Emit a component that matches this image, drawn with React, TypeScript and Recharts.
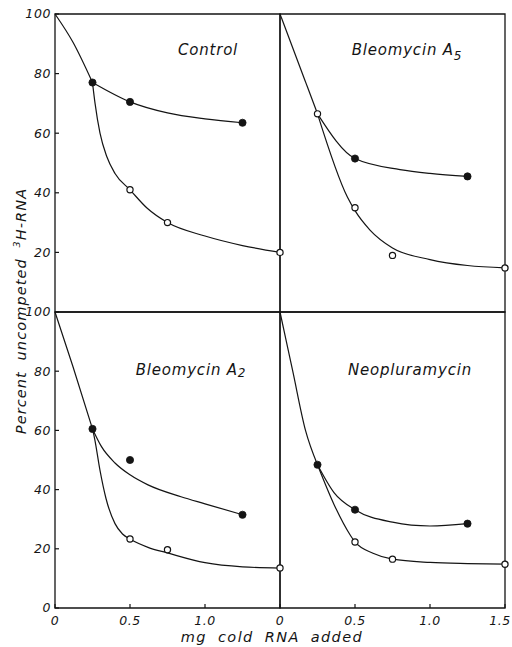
import React from 'react';
import { ComposedChart, Line, Scatter, XAxis, YAxis, ReferenceArea } from 'recharts';

type Pt = { x: number; y: number };

// Tick values
const X_TICKS_LEFT = [0, 0.5, 1.0];
const X_TICKS_RIGHT = [0, 0.5, 1.0, 1.5];
const X_INNER_TICKS = [0.5, 1.0];
const Y_TICKS_TOP = [20, 40, 60, 80, 100];
const Y_TICKS_BOTTOM = [0, 20, 40, 60, 80, 100];

// Control
const controlFilled: Pt[] = [{ x: 0.25, y: 77 }, { x: 0.5, y: 70.5 }, { x: 1.25, y: 63.5 }];
const controlOpen: Pt[] = [{ x: 0.5, y: 41 }, { x: 0.75, y: 30 }, { x: 1.5, y: 20 }];
const controlLead: Pt[] = [{ x: 0, y: 100 }, { x: 0.12, y: 90.5 }, { x: 0.25, y: 77 }];
const controlFilledCurve: Pt[] = [
  { x: 0.25, y: 77 }, { x: 0.5, y: 70.5 }, { x: 0.75, y: 66.8 }, { x: 1.0, y: 64.8 }, { x: 1.25, y: 63.5 },
];
const controlOpenCurve: Pt[] = [
  { x: 0.25, y: 77 }, { x: 0.267, y: 70 }, { x: 0.3, y: 60 }, { x: 0.345, y: 52.2 }, { x: 0.4, y: 46.5 },
  { x: 0.5, y: 41 }, { x: 0.615, y: 34.8 }, { x: 0.75, y: 30 }, { x: 1.0, y: 25.5 }, { x: 1.25, y: 22.3 },
  { x: 1.5, y: 20 },
];

// Bleomycin A5
const a5Filled: Pt[] = [{ x: 0.5, y: 51.5 }, { x: 1.25, y: 45.5 }];
const a5Open: Pt[] = [{ x: 0.25, y: 66.5 }, { x: 0.5, y: 35 }, { x: 0.75, y: 19 }, { x: 1.5, y: 14.8 }];
const a5Lead: Pt[] = [{ x: 0, y: 100 }, { x: 0.25, y: 66.5 }];
const a5FilledCurve: Pt[] = [
  { x: 0.25, y: 66.5 }, { x: 0.5, y: 51.5 }, { x: 0.8, y: 47.8 }, { x: 1.0, y: 46.5 }, { x: 1.25, y: 45.5 },
];
const a5OpenCurve: Pt[] = [
  { x: 0.25, y: 66.5 }, { x: 0.45, y: 38.5 }, { x: 0.5, y: 34 }, { x: 0.6, y: 27.5 }, { x: 0.75, y: 21.5 },
  { x: 1.0, y: 17.6 }, { x: 1.25, y: 15.6 }, { x: 1.5, y: 14.8 },
];

// Bleomycin A2
const a2Filled: Pt[] = [{ x: 0.25, y: 60.5 }, { x: 0.5, y: 50 }, { x: 1.25, y: 31.5 }];
const a2Open: Pt[] = [{ x: 0.5, y: 23.3 }, { x: 0.75, y: 19.7 }, { x: 1.5, y: 13.5 }];
const a2Lead: Pt[] = [{ x: 0, y: 100 }, { x: 0.12, y: 81.5 }, { x: 0.25, y: 60.5 }];
const a2FilledCurve: Pt[] = [
  { x: 0.25, y: 60.5 }, { x: 0.31, y: 54.5 }, { x: 0.4, y: 49 }, { x: 0.5, y: 45 }, { x: 0.62, y: 41.6 },
  { x: 0.84, y: 37.6 }, { x: 1.0, y: 35.2 }, { x: 1.25, y: 31.5 },
];
const a2OpenCurve: Pt[] = [
  { x: 0.25, y: 60.5 }, { x: 0.265, y: 57 }, { x: 0.3, y: 46.5 }, { x: 0.34, y: 37 }, { x: 0.4, y: 28.5 },
  { x: 0.45, y: 25 }, { x: 0.5, y: 23.3 }, { x: 0.62, y: 20.5 }, { x: 0.75, y: 18.6 }, { x: 1.0, y: 15.3 },
  { x: 1.25, y: 13.9 }, { x: 1.5, y: 13.5 },
];

// Neopluramycin
const neoFilled: Pt[] = [{ x: 0.25, y: 48.4 }, { x: 0.5, y: 33.2 }, { x: 1.25, y: 28.5 }];
const neoOpen: Pt[] = [{ x: 0.5, y: 22.3 }, { x: 0.75, y: 16.5 }, { x: 1.5, y: 14.8 }];
const neoLead: Pt[] = [{ x: 0, y: 100 }, { x: 0.085, y: 80 }, { x: 0.17, y: 60 }, { x: 0.25, y: 48.4 }];
const neoFilledCurve: Pt[] = [
  { x: 0.25, y: 48.4 }, { x: 0.36, y: 39 }, { x: 0.5, y: 33.2 }, { x: 0.75, y: 29 }, { x: 1.0, y: 27.7 },
  { x: 1.25, y: 28.5 },
];
const neoOpenCurve: Pt[] = [
  { x: 0.25, y: 48.4 }, { x: 0.36, y: 35 }, { x: 0.47, y: 24.5 }, { x: 0.5, y: 22.3 }, { x: 0.62, y: 18.5 },
  { x: 0.75, y: 16.5 }, { x: 1.0, y: 15.4 }, { x: 1.25, y: 15 }, { x: 1.5, y: 14.8 },
];

const INK = '#141414';
const FONT = '"DejaVu Sans", sans-serif';
const tickStyle = { fontFamily: FONT, fontStyle: 'italic', fontSize: 12.5, fill: INK, letterSpacing: 0.6 };
const fmtX = (v: number) => (v === 0 ? '0' : v.toFixed(1));

const FilledDot = (p: any) => <circle cx={p.cx} cy={p.cy} r={3.6} fill={INK} stroke={INK} strokeWidth={0.8} />;
const OpenDot = (p: any) => <circle cx={p.cx} cy={p.cy} r={3.1} fill="#fff" stroke={INK} strokeWidth={1.2} />;

// x tick label; the last label at the far right is nudged inward so it stays on the page
const XTick = (p: any) => {
  const v = p.payload.value as number;
  const dx = v === 1.5 ? -5 : 0;
  return (
    <text x={p.x + dx} y={p.y} dy="0.71em" textAnchor="middle" {...tickStyle}>
      {fmtX(v)}
    </text>
  );
};

interface PanelProps {
  left: number;
  top: number;
  width: number;
  height: number;
  margin: { top: number; right: number; bottom: number; left: number };
  yAxisWidth: number;
  yTicks: number[];
  yLabels: boolean;
  xTicks: number[] | null;
  topTicks: boolean;
  lead: Pt[];
  filledCurve: Pt[];
  openCurve: Pt[];
  filled: Pt[];
  open: Pt[];
  z: number;
}

function Panel(props: PanelProps) {
  const { left, top, width, height, margin, yAxisWidth, yTicks, yLabels, xTicks, topTicks } = props;
  return (
    <div style={{ position: 'absolute', left, top, width, height, zIndex: props.z }}>
      <ComposedChart width={width} height={height} margin={margin}>
        {xTicks ? (
          <XAxis
            dataKey="x"
            type="number"
            domain={[0, 1.5]}
            ticks={xTicks}
            interval={0}
            height={30}
            axisLine={false}
            tickSize={-4}
            tickMargin={12}
            tickLine={{ stroke: INK, strokeWidth: 1.2 }}
            tick={<XTick />}
          />
        ) : (
          <XAxis dataKey="x" type="number" domain={[0, 1.5]} hide />
        )}
        {topTicks && (
          <XAxis
            xAxisId="top"
            orientation="top"
            dataKey="x"
            type="number"
            domain={[0, 1.5]}
            ticks={X_INNER_TICKS}
            interval={0}
            height={0}
            axisLine={false}
            tickSize={4}
            tickLine={{ stroke: INK, strokeWidth: 1.2 }}
            tick={false}
          />
        )}
        <YAxis
          dataKey="y"
          type="number"
          domain={[0, 100]}
          ticks={yTicks}
          interval={0}
          width={yAxisWidth}
          axisLine={false}
          tickSize={-4}
          tickMargin={8}
          tickLine={{ stroke: INK, strokeWidth: 1.2 }}
          tick={yLabels ? tickStyle : false}
        />
        <ReferenceArea x1={0} x2={1.5} y1={0} y2={100} fill="none" stroke={INK} strokeWidth={1.3} ifOverflow="visible" />
        <Line data={props.lead} dataKey="y" type="monotone" stroke={INK} strokeWidth={1.2} dot={false} activeDot={false} isAnimationActive={false} />
        <Line data={props.filledCurve} dataKey="y" type="monotone" stroke={INK} strokeWidth={1.2} dot={false} activeDot={false} isAnimationActive={false} />
        <Line data={props.openCurve} dataKey="y" type="monotone" stroke={INK} strokeWidth={1.2} dot={false} activeDot={false} isAnimationActive={false} />
        <Scatter data={props.filled} dataKey="y" shape={FilledDot} isAnimationActive={false} />
        <Scatter data={props.open} dataKey="y" shape={OpenDot} isAnimationActive={false} />
      </ComposedChart>
    </div>
  );
}

const titleStyle: React.CSSProperties = { fontFamily: FONT, fontStyle: 'italic', fontSize: 15, fill: INK };

export default function App() {
  return (
    <div style={{ position: 'absolute', left: 0, top: 0, width: 512, height: 647, background: '#fff', overflow: 'hidden' }}>
      <Panel
        left={0} top={0} width={292} height={322}
        margin={{ top: 14, right: 12, bottom: 10, left: 0 }}
        yAxisWidth={55} yTicks={Y_TICKS_TOP} yLabels xTicks={null} topTicks={false}
        lead={controlLead} filledCurve={controlFilledCurve} openCurve={controlOpenCurve}
        filled={controlFilled} open={controlOpen} z={2}
      />
      <Panel
        left={270} top={0} width={242} height={322}
        margin={{ top: 14, right: 7, bottom: 10, left: 10 }}
        yAxisWidth={0} yTicks={Y_TICKS_TOP} yLabels={false} xTicks={null} topTicks={false}
        lead={a5Lead} filledCurve={a5FilledCurve} openCurve={a5OpenCurve}
        filled={a5Filled} open={a5Open} z={1}
      />
      <Panel
        left={0} top={300} width={292} height={347}
        margin={{ top: 12, right: 12, bottom: 9, left: 0 }}
        yAxisWidth={55} yTicks={Y_TICKS_BOTTOM} yLabels xTicks={X_TICKS_LEFT} topTicks
        lead={a2Lead} filledCurve={a2FilledCurve} openCurve={a2OpenCurve}
        filled={a2Filled} open={a2Open} z={2}
      />
      <Panel
        left={270} top={300} width={242} height={347}
        margin={{ top: 12, right: 7, bottom: 9, left: 10 }}
        yAxisWidth={0} yTicks={Y_TICKS_BOTTOM} yLabels={false} xTicks={X_TICKS_RIGHT} topTicks
        lead={neoLead} filledCurve={neoFilledCurve} openCurve={neoOpenCurve}
        filled={neoFilled} open={neoOpen} z={1}
      />
      <svg width={512} height={647} style={{ position: 'absolute', left: 0, top: 0, zIndex: 5, pointerEvents: 'none' }}>
        <text x={208} y={55} textAnchor="middle" style={titleStyle} letterSpacing={0.8}>Control</text>
        <text x={407} y={55} textAnchor="middle" style={titleStyle} letterSpacing={0.8}>
          <tspan>Bleomycin A</tspan>
          <tspan fontSize={12} dy={5}>5</tspan>
        </text>
        <text x={191} y={375} textAnchor="middle" style={titleStyle} letterSpacing={0.8}>
          <tspan>Bleomycin A</tspan>
          <tspan fontSize={12} dy={2}>2</tspan>
        </text>
        <text x={410} y={375} textAnchor="middle" style={titleStyle} letterSpacing={0.8}>Neopluramycin</text>
        <text
          x={26} y={311} textAnchor="middle" transform="rotate(-90 26 311)"
          style={{ ...titleStyle, fontSize: 14.5 }} letterSpacing={1.1} wordSpacing={5}
        >
          <tspan>Percent uncompeted </tspan>
          <tspan fontSize={9.5} dy={-6}>3</tspan>
          <tspan dy={6}>H-RNA</tspan>
        </text>
        <text x={272} y={642} textAnchor="middle" style={{ ...titleStyle, fontSize: 14.5 }} letterSpacing={1.4} wordSpacing={5}>
          mg cold RNA added
        </text>
      </svg>
    </div>
  );
}
